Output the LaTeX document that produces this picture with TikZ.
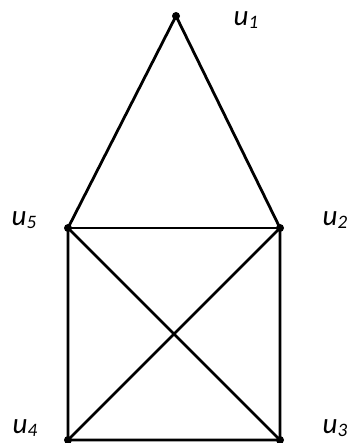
\documentclass[tikz,border=0pt]{standalone}
\usepackage{fontspec}
\setmainfont{Carlito}
\newcommand{\vlab}[1]{\textit{u\raisebox{-0.25ex}{\fontsize{19}{22}\selectfont#1}}}
\tikzset{
  vert/.style={circle, fill=black, inner sep=0pt, minimum size=8pt},
  vlabel/.style={font=\fontsize{29}{32}\selectfont},
  edge/.style={line width=2.8pt}
}
\begin{document}
\begin{tikzpicture}[x=1pt,y=1pt]
\useasboundingbox (0,0) rectangle (347,443);
\node[vert] (u1) at (176,427) {};
\node[vert] (u2) at (280,215) {};
\node[vert] (u3) at (280,3) {};
\node[vert] (u4) at (68,3) {};
\node[vert] (u5) at (68,215) {};
\draw[edge] (u1.center) -- (u2.center) -- (u3.center) -- (u4.center) -- (u5.center) -- (u1.center);
\draw[edge] (u5.center) -- (u2.center);
\draw[edge] (u5.center) -- (u3.center);
\draw[edge] (u4.center) -- (u2.center);
\node[vlabel] (l1) at (246,423) {\vlab{1}};
\node[vlabel] (l2) at (335,223) {\vlab{2}};
\node[vlabel] (l3) at (335,15) {\vlab{3}};
\node[vlabel] (l4) at (25,15) {\vlab{4}};
\node[vlabel] (l5) at (24,223) {\vlab{5}};
\end{tikzpicture}
\end{document}
